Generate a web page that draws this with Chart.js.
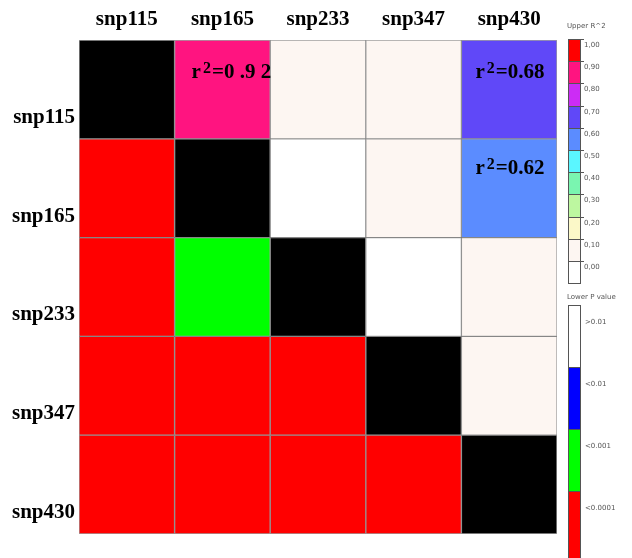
<!DOCTYPE html>
<html>
<head>
<meta charset="utf-8">
<script src="https://cdn.jsdelivr.net/npm/chart.js@4.4.1/dist/chart.umd.min.js"></script>
<style>
  html, body { margin: 0; padding: 0; background: #fff; }
  #wrap { position: relative; width: 632px; height: 558px; overflow: hidden; }
  #chartBox { position: absolute; left: 0; top: 0; width: 632px; height: 558px; }
  .lg-title { position: absolute; font: 7px "DejaVu Sans", sans-serif; color: #555; white-space: nowrap; }
  .lg-block { position: absolute; box-sizing: border-box; border: 1px solid #555; }
  .lg-label { position: absolute; font: 7px "DejaVu Sans", sans-serif; color: #555; white-space: nowrap; }
  .lg-tick { position: absolute; height: 1px; background: #555; }
</style>
</head>
<body>
<div id="wrap">
  <div id="chartBox"><canvas id="c"></canvas></div>
</div>
<script>
// ---------- data ----------
const snps = ['snp115', 'snp165', 'snp233', 'snp347', 'snp430'];

// upper triangle: r^2 (row snp vs column snp)
const r2Upper = [
  [null, 0.92, 0.06, 0.06, 0.68],
  [null, null, 0.02, 0.06, 0.62],
  [null, null, null, 0.02, 0.06],
  [null, null, null, null, 0.06],
  [null, null, null, null, null]
];

// lower triangle: P value class (row snp vs column snp)
const pLower = [
  [null, null, null, null, null],
  ['<0.0001', null, null, null, null],
  ['<0.0001', '<0.001', null, null, null],
  ['<0.0001', '<0.0001', '<0.0001', null, null],
  ['<0.0001', '<0.0001', '<0.0001', '<0.0001', null]
];

// r^2 annotations written into cells
const annRow = [0, 0, 1];
const annCol = [1, 4, 4];
const annValue = ['0 .9 2', '0.68', '0.62'];

// legends
const upperLegendTitle = 'Upper R^2';
const upperLegendLabels = ['1,00', '0,90', '0,80', '0,70', '0,60', '0,50', '0,40', '0,30', '0,20', '0,10', '0,00'];
const upperLegendColors = ['#ff0000', '#ff1480', '#cc2cf5', '#6048f8', '#5b8cff', '#5af6ff', '#7af5b0', '#bdf7a0', '#fbf8c8', '#fdf6f2', '#ffffff'];
const lowerLegendTitle = 'Lower P value';
const lowerLegendLabels = ['>0.01', '<0.01', '<0.001', '<0.0001'];
const lowerLegendColors = ['#ffffff', '#0000ff', '#00ff00', '#ff0000'];

// ---------- colours ----------
function upperColor(v) {
  const idx = 10 - Math.round(v * 10);
  return upperLegendColors[Math.max(0, Math.min(10, idx))];
}
function cellColor(r, c) {
  if (r === c) return '#000000';
  if (c > r) return upperColor(r2Upper[r][c]);
  return lowerLegendColors[lowerLegendLabels.indexOf(pLower[r][c])];
}

// one dataset per column, stacked horizontally; each row is a category
const datasets = snps.map((_, c) => ({
  label: snps[c],
  data: snps.map(() => 1),
  backgroundColor: snps.map((_, r) => cellColor(r, c)),
  borderColor: 'rgba(80,80,80,0.55)',
  borderWidth: 1,
  borderSkipped: false,
  barPercentage: 1,
  categoryPercentage: 1
}));

const cellText = {
  id: 'cellText',
  afterDatasetsDraw(chart) {
    const ctx = chart.ctx;
    const x = chart.scales.x, y = chart.scales.y;
    const band = y.getPixelForValue(1) - y.getPixelForValue(0);
    ctx.save();
    ctx.fillStyle = '#000';
    ctx.textBaseline = 'alphabetic';
    ctx.textAlign = 'left';
    annRow.forEach((r, i) => {
      const c = annCol[i];
      const left = x.getPixelForValue(c);
      const top = y.getPixelForValue(r) - band / 2;
      const px = left + (c === 1 ? 17 : 14);
      const py = top + (r === 0 ? 38 : 35);
      ctx.font = 'bold 21px "Liberation Serif", "Times New Roman", serif';
      ctx.fillText('r', px, py);
      const rw = ctx.measureText('r').width;
      ctx.font = 'bold 16px "Liberation Serif", "Times New Roman", serif';
      ctx.fillText('2', px + rw + 2, py - 5);
      const sw = ctx.measureText('2').width;
      ctx.font = 'bold 21px "Liberation Serif", "Times New Roman", serif';
      ctx.fillText('=' + annValue[i], px + rw + 2 + sw + 1, py);
    });
    ctx.restore();
  }
};

const labelFont = { family: '"Liberation Serif", "Times New Roman", serif', size: 21, weight: 'bold' };

new Chart(document.getElementById('c'), {
  type: 'bar',
  data: { labels: snps, datasets },
  options: {
    indexAxis: 'y',
    responsive: true,
    maintainAspectRatio: false,
    animation: false,
    layout: { padding: { left: 0, top: 0, right: 75, bottom: 24 } },
    plugins: { legend: { display: false }, tooltip: { enabled: false } },
    scales: {
      x: {
        type: 'linear', stacked: true, min: 0, max: 5, display: false
      },
      xTop: {
        type: 'category', axis: 'x', position: 'top', labels: snps, offset: true,
        grid: { display: false, drawTicks: false },
        border: { display: false },
        ticks: { color: '#000', font: labelFont, padding: 8, maxRotation: 0, autoSkip: false },
        afterFit(s) { s.height = 40; }
      },
      y: {
        type: 'category', stacked: true, offset: true,
        grid: { display: false, drawTicks: false },
        border: { display: false },
        ticks: { color: '#000', font: labelFont, padding: 4, labelOffset: 28, autoSkip: false },
        afterFit(s) { s.width = 79; }
      }
    }
  },
  plugins: [cellText]
});

// ---------- legend (colour bars) ----------
const wrap = document.getElementById('wrap');
function add(cls, style, text) {
  const d = document.createElement('div');
  d.className = cls;
  Object.assign(d.style, style);
  if (text) d.textContent = text;
  wrap.appendChild(d);
  return d;
}
const barX = 568, barW = 13;
add('lg-title', { left: '567px', top: '22px' }, upperLegendTitle);
const upTop = 39, upH = 22.2;
upperLegendLabels.forEach((lab, i) => {
  const t = upTop + i * upH;
  add('lg-block', { left: barX + 'px', top: t + 'px', width: barW + 'px', height: (upH + 1) + 'px', background: upperLegendColors[i] });
  add('lg-tick', { left: (barX + barW) + 'px', top: t + 'px', width: '3px' });
  add('lg-label', { left: '584px', top: (t + 2) + 'px' }, lab);
});
add('lg-title', { left: '567px', top: '293px' }, lowerLegendTitle);
const loTop = 305, loH = 62;
lowerLegendLabels.forEach((lab, i) => {
  const t = loTop + i * loH;
  add('lg-block', { left: barX + 'px', top: t + 'px', width: barW + 'px', height: (i === 3 ? 70 : loH + 1) + 'px', background: lowerLegendColors[i] });
  add('lg-label', { left: '585px', top: (t + 13) + 'px' }, lab);
});
</script>
</body>
</html>
